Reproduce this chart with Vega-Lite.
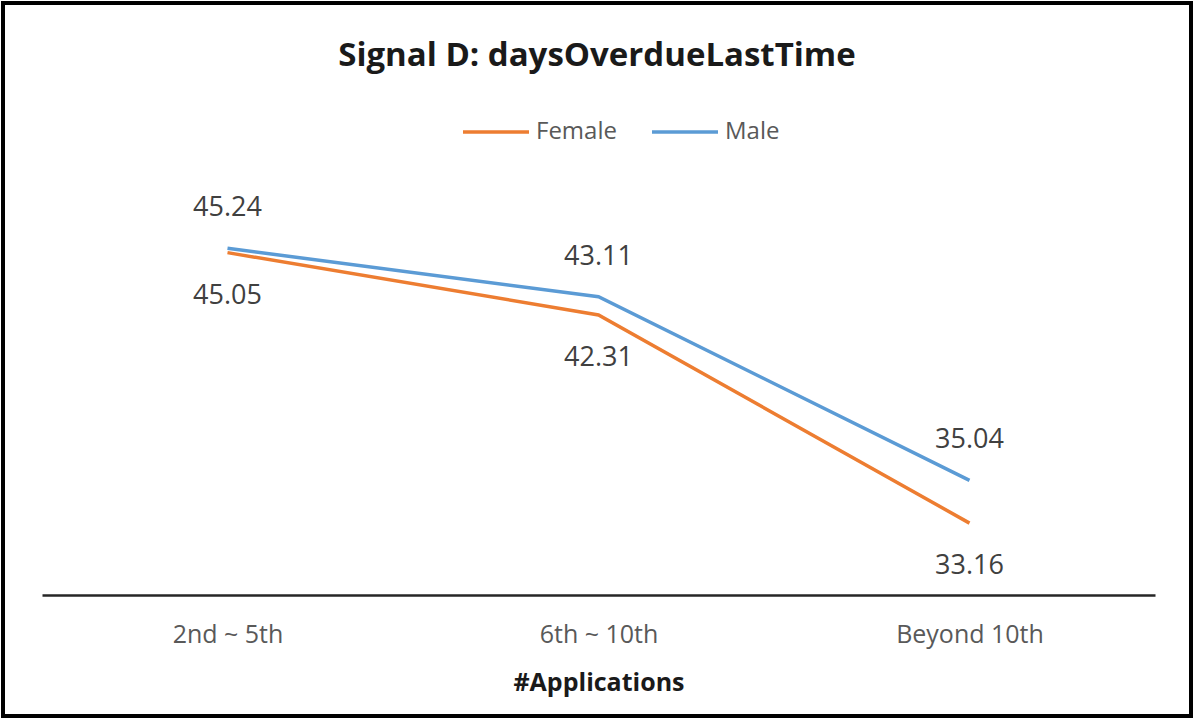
{
  "$schema": "https://vega.github.io/schema/vega-lite/v6.json",
  "autosize": "none",
  "padding": 3,
  "width": 1188,
  "height": 713,
  "background": "white",
  "title": {
    "text": "Signal D: daysOverdueLastTime",
    "font": "Open Sans",
    "fontSize": 33,
    "fontWeight": "bold",
    "color": "#1a1a1a",
    "baseline": "alphabetic",
    "offset": -96,
    "anchor": "middle"
  },
  "data": {
    "values": [
      {"applications": "2nd ~ 5th", "gender": "Female", "days": 45.05},
      {"applications": "6th ~ 10th", "gender": "Female", "days": 42.31},
      {"applications": "Beyond 10th", "gender": "Female", "days": 33.16},
      {"applications": "2nd ~ 5th", "gender": "Male", "days": 45.24},
      {"applications": "6th ~ 10th", "gender": "Male", "days": 43.11},
      {"applications": "Beyond 10th", "gender": "Male", "days": 35.04}
    ]
  },
  "encoding": {
    "x": {
      "field": "applications",
      "type": "nominal",
      "sort": ["2nd ~ 5th", "6th ~ 10th", "Beyond 10th"],
      "scale": {"type": "point", "range": [39, 1152], "padding": 0.5},
      "axis": {
        "orient": "bottom",
        "offset": -121,
        "title": "#Applications",
        "titleFont": "Open Sans",
        "titleFontSize": 25,
        "titleFontWeight": "bold",
        "titleColor": "#1a1a1a",
        "titleBaseline": "middle",
        "titleY": 87,
        "labelFont": "Open Sans",
        "labelFontSize": 25,
        "labelColor": "#595959",
        "labelBaseline": "middle",
        "labelPadding": 39,
        "labelAngle": 0,
        "ticks": false,
        "tickSize": 0,
        "grid": false,
        "domain": true,
        "domainColor": "#262626",
        "domainWidth": 2.5
      }
    },
    "y": {
      "field": "days",
      "type": "quantitative",
      "scale": {"domain": [30, 50], "range": [592, 137], "nice": false, "zero": false},
      "axis": null
    }
  },
  "layer": [
    {
      "mark": {"type": "line", "strokeWidth": 3.5},
      "encoding": {
        "color": {
          "field": "gender",
          "type": "nominal",
          "scale": {"domain": ["Female", "Male"], "range": ["#ED7D31", "#5B9BD5"]},
          "legend": {
            "title": null,
            "orient": "none",
            "direction": "horizontal",
            "legendX": 458,
            "legendY": 94,
            "symbolType": "stroke",
            "symbolSize": 4356,
            "symbolStrokeWidth": 3.5,
            "labelFont": "Open Sans",
            "labelFontSize": 24,
            "labelColor": "#595959",
            "labelOffset": 5,
            "columnPadding": 28,
            "padding": 0
          }
        }
      }
    },
    {
      "transform": [{"filter": "datum.gender === 'Male'"}],
      "mark": {"type": "text", "dy": -40, "font": "Open Sans", "fontSize": 27, "color": "#404040"},
      "encoding": {"text": {"field": "days", "type": "quantitative", "format": ".2f"}}
    },
    {
      "transform": [{"filter": "datum.gender === 'Female'"}],
      "mark": {"type": "text", "dy": 43, "font": "Open Sans", "fontSize": 27, "color": "#404040"},
      "encoding": {"text": {"field": "days", "type": "quantitative", "format": ".2f"}}
    }
  ],
  "config": {
    "view": {"stroke": "#000000", "strokeWidth": 4}
  }
}
